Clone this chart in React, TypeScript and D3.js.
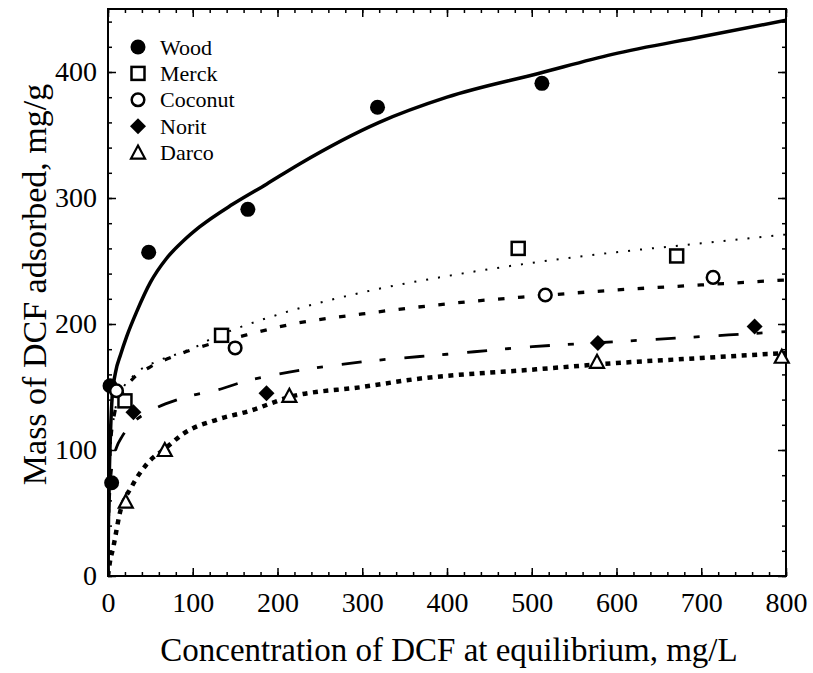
import React, { useEffect, useRef } from "react"
import * as d3 from "d3"

// measured points [C (mg/L), q (mg/g)]
const woodPts: [number, number][] = [[2.4, 151], [4.3, 74], [48, 257], [165, 291], [318, 372], [512, 391]]
const merckPts: [number, number][] = [[20, 139], [134, 191], [484, 260], [671, 254]]
const coconutPts: [number, number][] = [[10, 147], [150, 181], [516, 223], [714, 237]]
const noritPts: [number, number][] = [[30, 130], [187, 145], [578, 185], [763, 198]]
const darcoPts: [number, number][] = [[21, 59], [67, 100], [214, 143], [577, 170], [795, 174]]

// fitted curves
const woodFit: [number, number][] = [[0, 0], [0.5, 40], [1.5, 80], [3, 115], [5, 143], [9, 162], [15, 176], [22, 190], [34, 210], [50, 233], [69, 252], [89, 266], [108, 277], [147, 295], [187, 311], [226, 327], [320, 360], [400, 380], [509, 399], [595, 414], [700, 428], [800, 441]]
const merckFit: [number, number][] = [[0, 0], [1, 60], [3, 100], [8, 130], [15, 145], [30, 159], [53, 169], [81, 176], [104, 182], [124, 189], [150, 196], [208, 209], [320, 228], [400, 238], [505, 249], [600, 257], [700, 264], [800, 271]]
const coconutFit: [number, number][] = [[0, 0], [1, 70], [3, 105], [8, 130], [15, 143], [30, 157], [50, 166], [80, 175], [110, 182], [150, 189], [218, 200], [300, 208], [360, 213], [430, 218], [501, 222], [600, 227], [700, 231], [800, 235]]
const noritFit: [number, number][] = [[0, 0], [1, 45], [3, 75], [6, 92], [10, 102], [16, 110], [30, 122], [50, 131], [87, 141], [136, 149], [159, 154], [199, 160], [301, 170], [400, 176], [501, 182], [600, 186], [700, 190], [800, 194]]
const darcoFit: [number, number][] = [[0, 0], [2, 10], [6.3, 23], [14, 50], [28, 71], [46, 89], [69, 102], [89, 113], [128, 124], [167, 131], [214, 142], [300, 150], [360, 156], [505, 164], [600, 169], [700, 173], [800, 177]]

const seriesNames = ["Wood", "Merck", "Coconut", "Norit", "Darco"]
const xTicks = [0, 100, 200, 300, 400, 500, 600, 700, 800]
const yTicks = [0, 100, 200, 300, 400]

const FONT = "'Liberation Serif', 'Times New Roman', serif"

const App = () => {
  const ref = useRef<SVGSVGElement>(null)

  useEffect(() => {
    document.body.style.margin = "0"
    const svg = d3.select(ref.current)
    svg.selectAll("*").remove()

    const m = { left: 108, right: 786, top: 9, bottom: 576 }
    const x = d3.scaleLinear().domain([0, 800]).range([m.left, m.right])
    const y = d3.scaleLinear().domain([0, 450]).range([m.bottom, m.top])

    svg.append("clipPath").attr("id", "plotclip")
      .append("rect")
      .attr("x", m.left).attr("y", m.top)
      .attr("width", m.right - m.left).attr("height", m.bottom - m.top)

    // Axes: ticks point inward on all four sides
    const minorX = d3.range(0, 801, 20)
    const minorY = d3.range(0, 451, 20)

    const drawAxis = (gen: any, tr: string) => {
      const g = svg.append("g").attr("transform", tr).call(gen)
      g.select(".domain").remove()
      g.selectAll("line").attr("stroke", "black").attr("stroke-width", 1.5)
      g.selectAll("text").attr("font-family", FONT).attr("font-size", 28).attr("fill", "black")
      return g
    }

    drawAxis(d3.axisBottom(x).tickValues(minorX).tickSize(-4).tickFormat(() => ""), `translate(0,${m.bottom})`)
    drawAxis(d3.axisBottom(x).tickValues(xTicks).tickSize(-8).tickPadding(16).tickFormat(d3.format("d")), `translate(0,${m.bottom})`)
      .selectAll("text").attr("dy", "0.71em")
    drawAxis(d3.axisTop(x).tickValues(minorX).tickSize(-4).tickFormat(() => ""), `translate(0,${m.top})`)
    drawAxis(d3.axisTop(x).tickValues(xTicks).tickSize(-8).tickFormat(() => ""), `translate(0,${m.top})`)
    drawAxis(d3.axisLeft(y).tickValues(minorY).tickSize(-4).tickFormat(() => ""), `translate(${m.left},0)`)
    drawAxis(d3.axisLeft(y).tickValues(yTicks).tickSize(-8).tickPadding(11).tickFormat(d3.format("d")), `translate(${m.left},0)`)
    drawAxis(d3.axisRight(y).tickValues(minorY).tickSize(-4).tickFormat(() => ""), `translate(${m.right},0)`)
    drawAxis(d3.axisRight(y).tickValues(yTicks).tickSize(-8).tickFormat(() => ""), `translate(${m.right},0)`)

    svg.append("rect")
      .attr("x", m.left).attr("y", m.top)
      .attr("width", m.right - m.left).attr("height", m.bottom - m.top)
      .attr("fill", "none").attr("stroke", "black").attr("stroke-width", 2)

    // Axis titles
    svg.append("text")
      .attr("x", (m.left + m.right) / 2 + 2).attr("y", 661)
      .attr("text-anchor", "middle")
      .attr("font-family", FONT).attr("font-size", 33)
      .text("Concentration of DCF at equilibrium, mg/L")

    svg.append("text")
      .attr("transform", `translate(46,${(m.top + m.bottom) / 2 - 8}) rotate(-90)`)
      .attr("text-anchor", "middle")
      .attr("font-family", FONT).attr("font-size", 34)
      .text("Mass of DCF adsorbed, mg/g")

    // Fitted curves
    const line = d3.line<[number, number]>()
      .x(d => x(d[0]))
      .y(d => y(d[1]))
      .curve(d3.curveMonotoneX)

    const curves = [
      { data: woodFit, width: 3.5, dash: null },
      { data: merckFit, width: 2, dash: "2 10" },
      { data: coconutFit, width: 3.3, dash: "6.5 13.5" },
      { data: noritFit, width: 2.8, dash: "20 18 6 19" },
      { data: darcoFit, width: 4.5, dash: "5 5.5" },
    ]
    const curveG = svg.append("g").attr("clip-path", "url(#plotclip)")
    curves.forEach(c => {
      curveG.append("path")
        .attr("d", line(c.data))
        .attr("fill", "none")
        .attr("stroke", "black")
        .attr("stroke-width", c.width)
        .attr("stroke-dasharray", c.dash)
    })

    // Markers
    const symbolOf = (name: string, g: any, cx: number, cy: number) => {
      if (name === "Wood") {
        g.append("circle").attr("cx", cx).attr("cy", cy).attr("r", 7.5).attr("fill", "black")
      } else if (name === "Merck") {
        g.append("rect").attr("x", cx - 6.5).attr("y", cy - 6.5).attr("width", 13).attr("height", 13)
          .attr("fill", "white").attr("stroke", "black").attr("stroke-width", 2.5)
      } else if (name === "Coconut") {
        g.append("circle").attr("cx", cx).attr("cy", cy).attr("r", 6.3)
          .attr("fill", "white").attr("stroke", "black").attr("stroke-width", 2.5)
      } else if (name === "Norit") {
        g.append("path").attr("transform", `translate(${cx},${cy})`)
          .attr("d", "M0,-8L8,0L0,8L-8,0Z").attr("fill", "black")
      } else {
        g.append("path").attr("transform", `translate(${cx},${cy})`)
          .attr("d", "M0,-7L7,6L-7,6Z")
          .attr("fill", "white").attr("stroke", "black").attr("stroke-width", 2.2).attr("stroke-linejoin", "miter")
      }
    }

    const pointSets = [woodPts, merckPts, coconutPts, noritPts, darcoPts]
    const markG = svg.append("g")
    pointSets.forEach((pts, i) => {
      pts.forEach(p => symbolOf(seriesNames[i], markG, x(p[0]), y(p[1])))
    })

    // Legend
    const legend = svg.append("g").attr("transform", "translate(138,47)")
    seriesNames.forEach((name, i) => {
      const row = legend.append("g").attr("transform", `translate(0,${i * 26.4})`)
      symbolOf(name, row, 0, 0)
      row.append("text")
        .attr("x", 22).attr("y", 7.5)
        .attr("font-family", FONT).attr("font-size", 22)
        .text(name)
    })
  }, [])

  return <svg ref={ref} width={813} height={673} style={{ display: "block", background: "white" }} />
}

export default App
